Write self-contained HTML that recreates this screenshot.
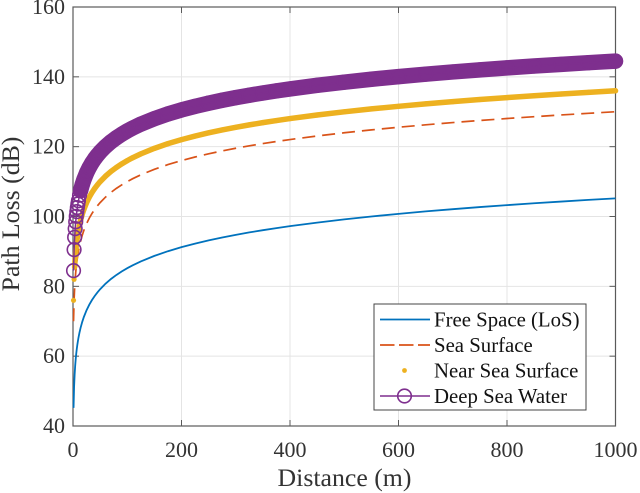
<!DOCTYPE html>
<html lang="en">
<head>
<meta charset="utf-8">
<title>Path Loss vs Distance</title>
<style>
html,body{margin:0;padding:0;background:#fff;width:640px;height:493px;overflow:hidden}
svg{display:block;font-family:"Liberation Serif",serif}
</style>
</head>
<body>
<svg id="chart" width="640" height="493" viewBox="0 0 640 493" xmlns="http://www.w3.org/2000/svg"></svg>
<script>
const xTickValues = [0, 200, 400, 600, 800, 1000];
const yTickValues = [40, 60, 80, 100, 120, 140, 160];
const distances = [1,2,3,4,5,6,7,8,9,10,12,14,17,20,25,30,35,40,45,50,60,70,80,90,100,110,125,150,175,200,225,250,275,300,325,350,375,400,450,500,550,600,650,700,750,800,850,900,950,1000];
const freeSpace = [45.2,51.22,54.74,57.24,59.18,60.76,62.1,63.26,64.28,65.2,66.78,68.12,69.81,71.22,73.16,74.74,76.08,77.24,78.26,79.18,80.76,82.1,83.26,84.28,85.2,86.03,87.14,88.72,90.06,91.22,92.24,93.16,93.99,94.74,95.44,96.08,96.68,97.24,98.26,99.18,100.01,100.76,101.46,102.1,102.7,103.26,103.79,104.28,104.75,105.2];
const seaSurface = [70,76.02,79.54,82.04,83.98,85.56,86.9,88.06,89.08,90,91.58,92.92,94.61,96.02,97.96,99.54,100.88,102.04,103.06,103.98,105.56,106.9,108.06,109.08,110,110.83,111.94,113.52,114.86,116.02,117.04,117.96,118.79,119.54,120.24,120.88,121.48,122.04,123.06,123.98,124.81,125.56,126.26,126.9,127.5,128.06,128.59,129.08,129.55,130];
const nearSea = [76,82.02,85.54,88.04,89.98,91.56,92.9,94.06,95.08,96,97.58,98.92,100.61,102.02,103.96,105.54,106.88,108.04,109.06,109.98,111.56,112.9,114.06,115.08,116,116.83,117.94,119.52,120.86,122.02,123.04,123.96,124.79,125.54,126.24,126.88,127.48,128.04,129.06,129.98,130.81,131.56,132.26,132.9,133.5,134.06,134.59,135.08,135.55,136];
const deepSea = [84.5,90.52,94.04,96.54,98.48,100.06,101.4,102.56,103.58,104.5,106.08,107.42,109.11,110.52,112.46,114.04,115.38,116.54,117.56,118.48,120.06,121.4,122.56,123.58,124.5,125.33,126.44,128.02,129.36,130.52,131.54,132.46,133.29,134.04,134.74,135.38,135.98,136.54,137.56,138.48,139.31,140.06,140.76,141.4,142,142.56,143.09,143.58,144.05,144.5];
const legendLabels = ["Free Space (LoS)", "Sea Surface", "Near Sea Surface", "Deep Sea Water"];

const plotLeft = 73, plotRight = 615.5, plotTop = 7, plotBottom = 426;
const xMax = 1000, yMin = 40, yMax = 160;
const BLUE = "#0072BD", RED = "#D95319", GOLD = "#EDB120", PURPLE = "#7E2F8E", AXIS = "#5a5a5a";
const svg = document.getElementById("chart");
const NS = "http://www.w3.org/2000/svg";

function xScale(v) { return plotLeft + (v / xMax) * (plotRight - plotLeft); }
function yScale(v) { return plotBottom - ((v - yMin) / (yMax - yMin)) * (plotBottom - plotTop); }
function make(tag, attrs, parent) {
  const el = document.createElementNS(NS, tag);
  for (const k in attrs) el.setAttribute(k, attrs[k]);
  (parent || svg).appendChild(el);
  return el;
}
function pathFor(ys, startIndex) {
  let d = "";
  for (let i = startIndex; i < ys.length; i++) {
    d += (i === startIndex ? "M" : "L") + xScale(distances[i]).toFixed(2) + " " + yScale(ys[i]).toFixed(2);
  }
  return d;
}

/* grid */
xTickValues.forEach(function (t) {
  if (t === 0 || t === xMax) return;
  const g = make("line", {x1: xScale(t), x2: xScale(t), y1: plotTop, y2: plotBottom, stroke: "#e4e4e4", "stroke-width": 1});
  
  
});
yTickValues.forEach(function (t) {
  if (t === yMin || t === yMax) return;
  const g = make("line", {x1: plotLeft, x2: plotRight, y1: yScale(t), y2: yScale(t), stroke: "#e4e4e4", "stroke-width": 1});
  
  
});

/* axes box */
const box = make("rect", {x: plotLeft, y: plotTop, width: plotRight - plotLeft, height: plotBottom - plotTop, fill: "none", stroke: AXIS, "stroke-width": 1.2});



/* ticks and labels */
xTickValues.forEach(function (t) {
  const x = xScale(t);
  const a = make("line", {x1: x, x2: x, y1: plotBottom, y2: plotBottom - 6, stroke: AXIS, "stroke-width": 1});
  
  
  const b = make("line", {x1: x, x2: x, y1: plotTop, y2: plotTop + 6, stroke: AXIS, "stroke-width": 1});
  
  
  const l = make("text", {x: x, y: 457, "text-anchor": "middle", "font-size": 22, fill: "#333"});
  l.textContent = t;
  
  
});
yTickValues.forEach(function (t) {
  const y = yScale(t);
  const a = make("line", {x1: plotLeft, x2: plotLeft + 6, y1: y, y2: y, stroke: AXIS, "stroke-width": 1});
  
  
  const b = make("line", {x1: plotRight, x2: plotRight - 6, y1: y, y2: y, stroke: AXIS, "stroke-width": 1});
  
  
  const l = make("text", {x: 65, y: y + 7, "text-anchor": "end", "font-size": 22, fill: "#333"});
  l.textContent = t;
  
  
});

/* series */
const lineFree = make("path", {d: pathFor(freeSpace, 0), fill: "none", stroke: BLUE, "stroke-width": 1.8});



const lineSea = make("path", {d: pathFor(seaSurface, 0), fill: "none", stroke: RED, "stroke-width": 1.7, "stroke-dasharray": "13 7"});



const bandNear = make("path", {d: pathFor(nearSea, 2), fill: "none", stroke: GOLD, "stroke-width": 5.5, "stroke-linecap": "round", "stroke-linejoin": "round"});


nearSea.forEach(function (v, i) {
  const c = make("circle", {cx: xScale(distances[i]), cy: yScale(v), r: 2.6, fill: GOLD});
  
  
});

const bandDeep = make("path", {d: pathFor(deepSea, 11), fill: "none", stroke: PURPLE, "stroke-width": 15.5, "stroke-linecap": "round", "stroke-linejoin": "round"});


const lineDeep = make("path", {d: pathFor(deepSea, 0), fill: "none", stroke: PURPLE, "stroke-width": 1.5});


deepSea.forEach(function (v, i) {
  const c = make("circle", {cx: xScale(distances[i]), cy: yScale(v), r: 6.8, fill: "none", stroke: PURPLE, "stroke-width": 1.6});
  
  
});

/* axis titles */
const xTitle = make("text", {x: 344.5, y: 486, "text-anchor": "middle", "font-size": 25.8, fill: "#333"});
xTitle.textContent = "Distance (m)";


const yTitle = make("text", {x: 0, y: 0, "text-anchor": "middle", "font-size": 25.8, fill: "#333", transform: "translate(19 214) rotate(-90)"});
yTitle.textContent = "Path Loss (dB)";



/* legend */
const legendBox = make("rect", {x: 374, y: 304, width: 212, height: 106, fill: "#fff", stroke: "#444", "stroke-width": 1});


const legendY = [319.5, 345, 370.5, 396];
legendLabels.forEach(function (label, i) {
  const t = make("text", {x: 434, y: legendY[i] + 7, "font-size": 20.8, fill: "#111"});
  t.textContent = label;
  
  
});
const keyFree = make("line", {x1: 380, x2: 430, y1: legendY[0], y2: legendY[0], stroke: BLUE, "stroke-width": 1.8});


const keySea = make("line", {x1: 380, x2: 430, y1: legendY[1], y2: legendY[1], stroke: RED, "stroke-width": 1.7, "stroke-dasharray": "14.5 4.5"});


const keyNear = make("circle", {cx: 404.5, cy: legendY[2], r: 2.4, fill: GOLD});


const keyDeepLine = make("line", {x1: 380, x2: 430, y1: legendY[3], y2: legendY[3], stroke: PURPLE, "stroke-width": 1.6});


const keyDeep = make("circle", {cx: 404.5, cy: legendY[3], r: 6.8, fill: "none", stroke: PURPLE, "stroke-width": 1.6});


</script>
</body>
</html>
